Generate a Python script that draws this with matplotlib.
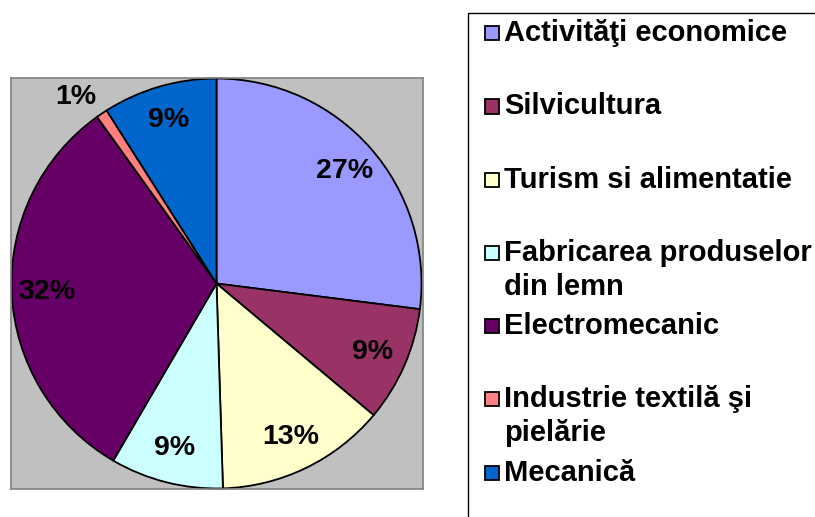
import matplotlib
matplotlib.use('Agg')
import matplotlib.pyplot as plt
from matplotlib.patches import Rectangle
import numpy as np

# ---- data ----
categories = ["Activităţi economice", "Silvicultura", "Turism si alimentatie",
              "Fabricarea produselor\ndin lemn", "Electromecanic",
              "Industrie textilă şi\npielărie", "Mecanică"]
shares = [27.0, 9.1, 13.4, 8.9, 31.7, 0.9, 9.0]
colors = ["#9999FF", "#993366", "#FFFFCC", "#CCFFFF", "#660066", "#FF8080", "#0066CC"]

plt.rcParams['font.family'] = ['Liberation Sans', 'DejaVu Sans']

W, H = 815, 517
fig = plt.figure(figsize=(W / 100, H / 100), dpi=100)
fig.patch.set_facecolor('white')

# plot area (grey box)
box_l, box_t, box_r, box_b = 10.5, 77.5, 422.5, 489.5
ax = fig.add_axes([box_l / W, 1 - box_b / H, (box_r - box_l) / W, (box_b - box_t) / H])
wedges, _ = ax.pie(shares, colors=colors, startangle=90, counterclock=False,
                   radius=1.0, wedgeprops=dict(edgecolor='black', linewidth=1.3))
lim = ((box_r - box_l) / 2) / 205.0
ax.set_xlim(-lim, lim)
ax.set_ylim(-lim, lim)
ax.set_aspect('equal', adjustable='box')
ax.set_frame_on(True)
ax.set_facecolor('#C0C0C0')
for s in ax.spines.values():
    s.set_color('#808080')
    s.set_linewidth(1.2)
ax.set_xticks([])
ax.set_yticks([])

for w, v in zip(wedges, shares):
    mid = np.deg2rad((w.theta1 + w.theta2) / 2)
    if v < 2:
        r, mid = 1.14, mid + np.deg2rad(3)
    else:
        r = 0.83
    ax.text(r * np.cos(mid), r * np.sin(mid), f"{v:.0f}%", ha='center', va='center',
            fontsize=20.5, fontweight='bold', color='black')

# legend (Excel-style, evenly spaced entries)
fig.add_artist(Rectangle((468 / W, -0.1), 1.0, 1.1 - 13.3 / H, transform=fig.transFigure,
                         facecolor='none', edgecolor='black', linewidth=1.0))
top0, step, line_h = 33.3, 73.2, 34.0
for i, (lab, c) in enumerate(zip(categories, colors)):
    yc = top0 + i * step
    fig.add_artist(Rectangle((485 / W, 1 - (yc + 7) / H), 14 / W, 14 / H,
                             transform=fig.transFigure, facecolor=c,
                             edgecolor='black', linewidth=1.3))
    for j, line in enumerate(lab.split('\n')):
        fig.text(504 / W, 1 - (yc + 8 + j * line_h) / H, line, ha='left', va='baseline',
                 fontsize=21, fontweight='bold', color='black')

fig.savefig('out.png', dpi=100)
